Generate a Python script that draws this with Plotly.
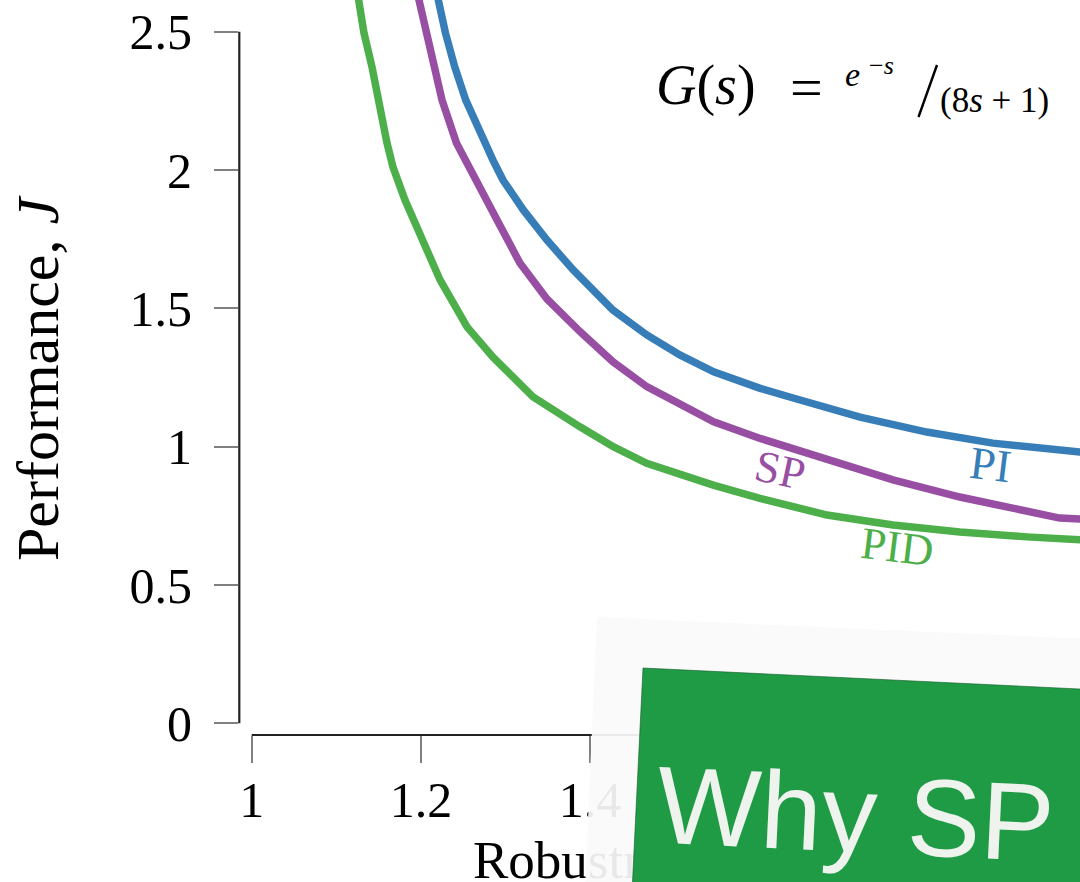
import plotly.graph_objects as go

# ---- data: performance J versus robustness M_S for three controller types ----
pi_x = [1.218, 1.229, 1.240, 1.253, 1.285, 1.297, 1.321, 1.349, 1.380, 1.412,
        1.427, 1.467, 1.506, 1.546, 1.601, 1.640, 1.719, 1.798, 1.876, 1.979, 2.0]
pi_y = [2.651, 2.496, 2.373, 2.253, 2.037, 1.964, 1.856, 1.747, 1.639, 1.542,
        1.494, 1.404, 1.332, 1.271, 1.211, 1.176, 1.107, 1.053, 1.013, 0.981, 0.975]

sp_x = [1.195, 1.206, 1.215, 1.225, 1.242, 1.266, 1.290, 1.317, 1.349, 1.388,
        1.427, 1.467, 1.506, 1.546, 1.601, 1.680, 1.758, 1.837, 1.916, 1.935,
        1.955, 1.979, 2.0]
sp_y = [2.651, 2.496, 2.373, 2.253, 2.098, 1.964, 1.820, 1.664, 1.534, 1.416,
        1.307, 1.217, 1.151, 1.090, 1.030, 0.952, 0.880, 0.818, 0.771, 0.753,
        0.742, 0.739, 0.736]

pid_x = [1.1245, 1.1327, 1.1422, 1.1493, 1.1599, 1.167, 1.1812, 1.2226, 1.2545,
         1.2852, 1.3325, 1.388, 1.4274, 1.4669, 1.5063, 1.5456, 1.6008,
         1.680, 1.758, 1.837, 1.916, 1.979, 2.0]
pid_y = [2.651, 2.496, 2.373, 2.253, 2.098, 2.011, 1.892, 1.603, 1.433,
         1.324, 1.180, 1.072, 1.000, 0.940, 0.897, 0.861, 0.813,
         0.753, 0.717, 0.692, 0.674, 0.663, 0.66]

x_ticks = [1, 1.2, 1.4, 1.6, 1.8, 2]
x_tick_labels = ["1", "1.2", "1.4", "1.6", "1.8", "2"]
y_ticks = [0, 0.5, 1, 1.5, 2, 2.5]
y_tick_labels = ["0", "0.5", "1", "1.5", "2", "2.5"]

# ---- styling ----
C_PI = "#377eb8"
C_SP = "#984ea3"
C_PID = "#4daf4a"
SERIF = "Liberation Serif"
SANS = "Liberation Sans"

W, H = 1080, 882
L, B = 239, 147
X_RANGE = [0.985, 1.979]
Y_RANGE = [-0.0423, 2.615]


def px(xp):
    """pixel column -> paper x"""
    return (xp - L) / (W - L)


def py(yp):
    """pixel row -> paper y"""
    return (H - B - yp) / (H - B)


def dx(v):
    """data x -> paper x"""
    return (v - X_RANGE[0]) / (X_RANGE[1] - X_RANGE[0])


def dy(v):
    """data y -> paper y"""
    return (v - Y_RANGE[0]) / (Y_RANGE[1] - Y_RANGE[0])


fig = go.Figure()
for xs, ys, col in [(pi_x, pi_y, C_PI), (sp_x, sp_y, C_SP), (pid_x, pid_y, C_PID)]:
    fig.add_trace(go.Scatter(x=xs, y=ys, mode="lines",
                             line=dict(color=col, width=7.5),
                             showlegend=False, hoverinfo="skip"))

# x-axis title, drawn as a text trace (anchored just inside the plot and pushed
# down with empty lines) so the sign panel can sit over it
fig.add_trace(go.Scatter(
    x=[1.2616], y=[-0.014], mode="text",
    text=["<br><br><br><br>Robustness, <i>M</i><sub>S</sub>"],
    textposition="middle right",
    textfont=dict(family=SERIF, size=53, color="black"),
    cliponaxis=False, showlegend=False, hoverinfo="skip"))

shapes = [
    # axis lines spanning only the tick range
    dict(type="line", xref="paper", yref="paper",
         x0=px(239.3), x1=px(239.3), y0=dy(0), y1=dy(2.5),
         line=dict(color="#222222", width=2.2), layer="above"),
    dict(type="line", xref="paper", yref="paper",
         x0=dx(1.0), x1=1.0, y0=0, y1=0,
         line=dict(color="#222222", width=2.2), layer="above"),
    # light panel of the sign
    dict(type="path", xref="paper", yref="paper",
         path=f"M {px(597)},{py(617)} L {px(1200)},{py(644)} "
              f"L {px(1200)},{py(1000)} L {px(580)},{py(1000)} Z",
         fillcolor="rgba(250,250,250,0.93)", line=dict(width=0), layer="above"),
    # green board
    dict(type="path", xref="paper", yref="paper",
         path=f"M {px(643)},{py(668)} L {px(1200)},{py(694.8)} "
              f"L {px(1200)},{py(1000)} L {px(626.7)},{py(1000)} Z",
         fillcolor="#1f9a45", line=dict(color="rgba(20,90,40,0.6)", width=1),
         layer="above"),
    # fraction slash of the transfer function
    dict(type="line", xref="paper", yref="paper",
         x0=px(937), y0=py(65), x1=px(918.5), y1=py(117),
         line=dict(color="black", width=2.4), layer="above"),
]


def note(text, x, y, size, color="black", angle=0, xanchor="center",
         data=False, family=SERIF):
    return dict(text=text, x=x, y=y,
                xref="x" if data else "paper", yref="y" if data else "paper",
                textangle=angle, xanchor=xanchor, yanchor="middle",
                showarrow=False, font=dict(family=family, size=size, color=color))


annotations = [
    note("Performance, <i>J</i>", px(38), py(378), 60, angle=-90),
    note("SP", 1.6245, 0.916, 45, C_SP, 12, data=True),
    note("PI", 1.8727, 0.934, 46, C_PI, 7, data=True),
    note("PID", 1.7628, 0.637, 45, C_PID, 7, data=True),
    # G(s) = e^{-s} / (8s+1)
    note("<i>G</i>(<i>s</i>)", px(654), py(85), 56, xanchor="left"),
    note("=", px(806), py(88), 58),
    note("<i>e</i>", px(843), py(74), 34, xanchor="left"),
    note("−<i>s</i>", px(867), py(66), 26, xanchor="left"),
    note("(8<i>s</i> + 1)", px(938), py(100), 35, xanchor="left"),
    # sign text
    note("Why SP", px(855), py(813), 110, "#eef3ee", 2.75, family=SANS),
]

fig.update_layout(
    width=W, height=H,
    margin=dict(l=L, r=0, t=0, b=B, pad=0),
    paper_bgcolor="white", plot_bgcolor="white",
    shapes=shapes, annotations=annotations,
    xaxis=dict(range=X_RANGE, tickvals=x_ticks, ticktext=x_tick_labels,
               showgrid=False, zeroline=False, showline=False,
               ticks="outside", ticklen=27, tickwidth=2, tickcolor="#808080",
               ticklabelstandoff=-6,
               tickfont=dict(family=SERIF, size=50, color="black")),
    yaxis=dict(range=Y_RANGE, tickvals=y_ticks, ticktext=y_tick_labels,
               showgrid=False, zeroline=False, showline=False,
               ticks="outside", ticklen=24, tickwidth=2, tickcolor="#808080",
               ticklabelstandoff=12,
               tickfont=dict(family=SERIF, size=50, color="black")),
)

fig.write_html("out.html")
